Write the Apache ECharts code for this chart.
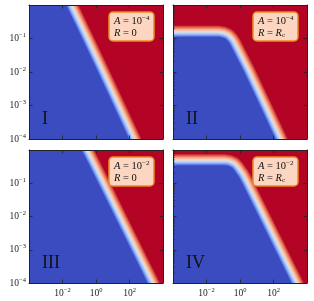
<!DOCTYPE html>
<html><head><meta charset="utf-8">
<script src="https://cdn.jsdelivr.net/npm/echarts@6/dist/echarts.min.js"></script>
<style>html,body{margin:0;padding:0;background:#fff}#c{width:314px;height:301px}</style>
</head><body><div id="c"></div>
<script>
// ---- data (edge of the blue region, x/y pairs) ----
const xRange = [1e-4, 1e4];
const yRange = [1e-4, 1];
const boundaryI   = [[1e-4,1],[0.0166,1],[0.151,0.1],[1.32,0.01],[11.2,0.001],[95.5,1e-4]];
const boundaryII  = [[1e-4,0.112],[0.056,0.112],[0.089,0.108],[0.141,0.0977],[0.2,0.0813],[0.269,0.0646],[0.355,0.049],[1.78,0.01],[15.5,0.001],[132,1e-4]];
const boundaryIII = [[1e-4,1],[0.141,1],[1.38,0.1],[13.2,0.01],[126,0.001],[1202,1e-4]];
const boundaryIV  = [[1e-4,0.347],[0.126,0.347],[0.2,0.335],[0.316,0.302],[0.447,0.251],[0.603,0.2],[0.851,0.158],[1.38,0.1],[13.2,0.01],[126,0.001],[1202,1e-4]];
const panelNames  = ['I','II','III','IV'];
const aLabels     = ['\u22124','\u22124','\u22122','\u22122'];
const rLabels     = ['0','Rc','0','Rc'];
const minorMult   = [2,3,4,5,6,7,8,9];
const minorDecades= [1e-4,1e-3,1e-2,1e-1];

// ---- styles ----
const SERIF = 'Liberation Serif';
const BLUE = '#3b4cc0', RED = '#b40426', FRAME = '#222';
const bandLayers = [
  [22,'#cb3e38'],[20,'#de604d'],[18,'#ee8467'],[16,'#f7a687'],[14,'#f6bfa6'],
  [12,'#ecd3c5'],[10,'#dddddd'],[8,'#bdd2f6'],[6,'#9fbeff'],[4,'#7b9ef8'],[2,'#5978e3']
];
const boundaries = [boundaryI, boundaryII, boundaryIII, boundaryIV];
const grids = [
  {left:29, top:5, width:134, height:134},
  {left:173, top:5, width:134, height:134},
  {left:29, top:150, width:134, height:133},
  {left:173, top:150, width:134, height:133}
];
const expText = e => (e < 0 ? '\u2212' + (-e) : '' + e);
const labelRich = {
  b:{fontFamily:SERIF, fontSize:9.5, color:FRAME, lineHeight:13},
  s:{fontFamily:SERIF, fontSize:6.5, color:FRAME, verticalAlign:'top', lineHeight:7}
};
const fmt = v => '{b|10}{s|' + expText(Math.round(Math.log10(v))) + '}';

function renderField(params, api) {
  if (params.dataIndexInside !== 0) return null;
  const n = params.dataInsideLength;
  const pts = [];
  for (let i = 0; i < n; i++) pts.push(api.coord([api.value(0, i), api.value(1, i)]));
  const children = bandLayers.map(([w, c]) => ({
    type:'polyline', shape:{points:pts},
    style:{stroke:c, lineWidth:w, fill:null, lineCap:'square', lineJoin:'round'}
  }));
  const last = pts[pts.length - 1];
  const base = api.coord([xRange[0], yRange[0]]);
  const lastBase = api.coord([api.value(0, n - 1), yRange[0]]);
  children.push({type:'polygon', shape:{points:pts.concat([[lastBase[0], base[1] + 1], [base[0] - 1, base[1] + 1], [base[0] - 1, pts[0][1]]])},
    style:{fill:BLUE, stroke:null}});
  return {type:'group', children};
}

const xAxes = [], yAxes = [], series = [], titles = [];
grids.forEach((g, gi) => {
  const bottomRow = gi >= 2, leftCol = gi % 2 === 0;
  ['bottom','top'].forEach(pos => xAxes.push({
    type:'log', logBase:100, gridIndex:gi, position:pos, min:xRange[0], max:xRange[1], z:10,
    axisLine:{show:true, onZero:false, lineStyle:{color:FRAME, width:1}},
    axisTick:{show:true, inside:true, length:3.5, lineStyle:{color:FRAME, width:0.8}},
    axisLabel:{show: pos==='bottom' && bottomRow, showMinLabel:false, showMaxLabel:false,
      margin:4, formatter:fmt, rich:labelRich},
    splitLine:{show:false}
  }));
  ['left','right'].forEach(pos => yAxes.push({
    type:'log', logBase:10, gridIndex:gi, position:pos, min:yRange[0], max:yRange[1], z:10,
    axisLine:{show:true, onZero:false, lineStyle:{color:FRAME, width:1}},
    axisTick:{show:true, inside:true, length:3.5, lineStyle:{color:FRAME, width:0.8}},
    axisLabel:{show: pos==='left' && leftCol, showMinLabel:true, showMaxLabel:false,
      margin:3, formatter:fmt, rich:labelRich},
    splitLine:{show:false}
  }));
  const xi = gi*2, yi = gi*2;
  series.push({
    type:'custom', xAxisIndex:xi, yAxisIndex:yi, data:boundaries[gi],
    silent:true, animation:false, clip:true, renderItem:renderField
  });
  if (!leftCol) {
    const minors = [];
    minorDecades.forEach(d => minorMult.forEach(m => minors.push([xRange[0], m*d])));
    series.push({
      type:'custom', xAxisIndex:xi, yAxisIndex:yi, data:minors, silent:true, animation:false, z:11,
      renderItem:(params, api) => {
        const p = api.coord([api.value(0), api.value(1)]);
        return {type:'line', shape:{x1:p[0], y1:p[1], x2:p[0]+2, y2:p[1]},
                style:{stroke:FRAME, lineWidth:0.7}};
      }
    });
  }
  const rText = rLabels[gi] === 'Rc' ? '{i|R}{sb|c}' : '0';
  titles.push({
    left: g.left + 80, top: g.top + 7,
    text: '{i|A} = 10{s|' + aLabels[gi] + '}\n{i|R} = ' + rText,
    padding:[3,5,2,5], backgroundColor:'#fcd6c0', borderColor:'#f08a1c', borderWidth:1.5, borderRadius:4,
    textStyle:{fontFamily:SERIF, fontSize:10.5, fontWeight:'normal', color:'#111', lineHeight:12,
      rich:{
        i:{fontFamily:SERIF, fontStyle:'italic', fontSize:10.5, color:'#111', lineHeight:12},
        s:{fontFamily:SERIF, fontSize:7, color:'#111', verticalAlign:'top', lineHeight:7},
        sb:{fontFamily:SERIF, fontSize:7, color:'#111', verticalAlign:'bottom', lineHeight:7}
      }}
  });
  titles.push({
    left: g.left + 13, top: g.top + g.height - 29,
    text: panelNames[gi], padding:0,
    textStyle:{fontFamily:SERIF, fontSize:18, fontWeight:'normal', color:'#111', lineHeight:18}
  });
});

const chart = echarts.init(document.getElementById('c'), null, {renderer:'canvas'});
chart.setOption({
  animation:false,
  grid: grids.map(g => Object.assign({show:true, backgroundColor:RED, borderWidth:0}, g)),
  xAxis:xAxes, yAxis:yAxes, series, title:titles
});
</script></body></html>
